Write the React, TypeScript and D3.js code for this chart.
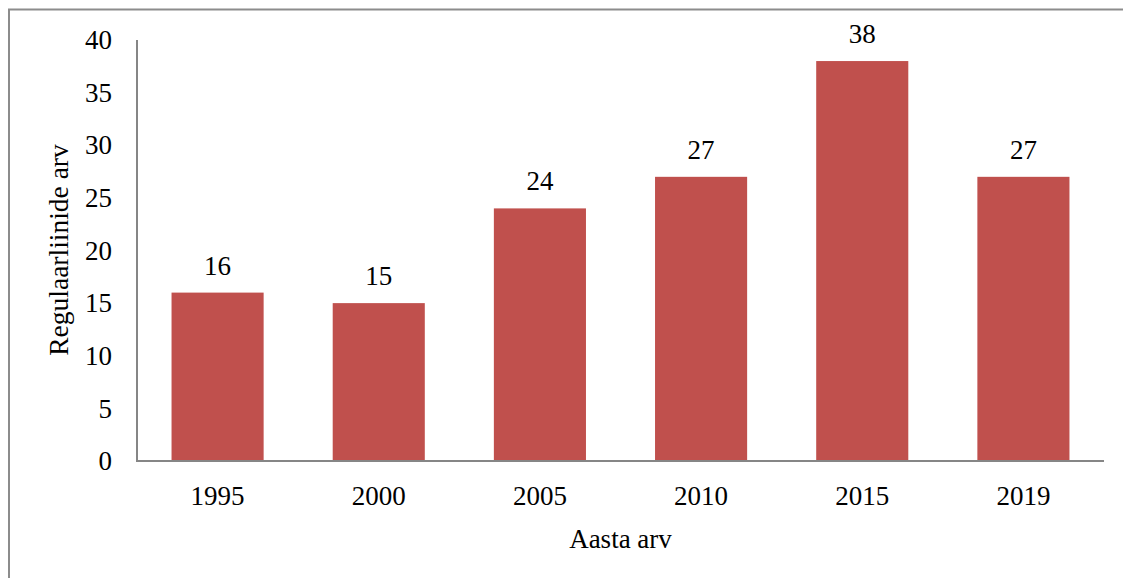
import React, { useRef, useEffect } from "react";
import * as d3 from "d3";

const years = ["1995", "2000", "2005", "2010", "2015", "2019"];
const lineCounts = [16, 15, 24, 27, 38, 27];
const yTicks = [0, 5, 10, 15, 20, 25, 30, 35, 40];

const FONT = "'Liberation Serif', 'Times New Roman', serif";

export default function App() {
  const svgRef = useRef<SVGSVGElement>(null);

  useEffect(() => {
    if (!svgRef.current) return;
    const width = 1123;
    const height = 578;
    const plot = { left: 137, right: 1104, top: 40, bottom: 461 };

    const svg = d3.select(svgRef.current);
    svg.selectAll("*").remove();
    svg.attr("width", width).attr("height", height);

    // chart frame (runs past the right and bottom edge)
    svg
      .append("rect")
      .attr("x", 9)
      .attr("y", 9.5)
      .attr("width", 1130)
      .attr("height", 600)
      .attr("fill", "#fff")
      .attr("stroke", "#8c8c8c")
      .attr("stroke-width", 2);

    const x = d3
      .scaleBand()
      .domain(years)
      .range([plot.left, plot.right])
      .paddingInner(0.75 / 1.75)
      .paddingOuter(0.75 / 1.75 / 2);

    const y = d3.scaleLinear().domain([0, 40]).range([plot.bottom, plot.top]);

    // bars
    svg
      .selectAll(".bar")
      .data(years)
      .join("rect")
      .attr("class", "bar")
      .attr("x", (d) => x(d) || 0)
      .attr("y", (d, i) => y(lineCounts[i]))
      .attr("width", x.bandwidth())
      .attr("height", (d, i) => plot.bottom - y(lineCounts[i]))
      .attr("fill", "#C0504D");

    // value labels
    svg
      .selectAll(".val")
      .data(years)
      .join("text")
      .attr("class", "val")
      .attr("x", (d) => (x(d) || 0) + x.bandwidth() / 2)
      .attr("y", (d, i) => y(lineCounts[i]) - 18)
      .attr("text-anchor", "middle")
      .attr("font-family", FONT)
      .attr("font-size", 27)
      .attr("fill", "#000")
      .text((d, i) => lineCounts[i]);

    // axis lines
    svg
      .append("line")
      .attr("x1", plot.left)
      .attr("x2", plot.left)
      .attr("y1", plot.top)
      .attr("y2", plot.bottom)
      .attr("stroke", "#868686")
      .attr("stroke-width", 2);
    svg
      .append("line")
      .attr("x1", plot.left - 1)
      .attr("x2", plot.right)
      .attr("y1", plot.bottom)
      .attr("y2", plot.bottom)
      .attr("stroke", "#868686")
      .attr("stroke-width", 2);

    // y tick labels
    svg
      .selectAll(".ytick")
      .data(yTicks)
      .join("text")
      .attr("class", "ytick")
      .attr("x", 112)
      .attr("y", (d) => y(d))
      .attr("dy", "0.34em")
      .attr("text-anchor", "end")
      .attr("font-family", FONT)
      .attr("font-size", 27)
      .text((d) => d);

    // x tick labels
    svg
      .selectAll(".xtick")
      .data(years)
      .join("text")
      .attr("class", "xtick")
      .attr("x", (d) => (x(d) || 0) + x.bandwidth() / 2)
      .attr("y", 505)
      .attr("text-anchor", "middle")
      .attr("font-family", FONT)
      .attr("font-size", 27)
      .text((d) => d);

    // axis titles
    svg
      .append("text")
      .attr("x", (plot.left + plot.right) / 2)
      .attr("y", 548)
      .attr("text-anchor", "middle")
      .attr("font-family", FONT)
      .attr("font-size", 27)
      .text("Aasta arv");

    svg
      .append("text")
      .attr("transform", `translate(68,250) rotate(-90)`)
      .attr("text-anchor", "middle")
      .attr("font-family", FONT)
      .attr("font-size", 27.5)
      .text("Regulaarliinide arv");
  }, []);

  return (
    <svg
      ref={svgRef}
      style={{ position: "absolute", left: 0, top: 0, display: "block" }}
    />
  );
}
